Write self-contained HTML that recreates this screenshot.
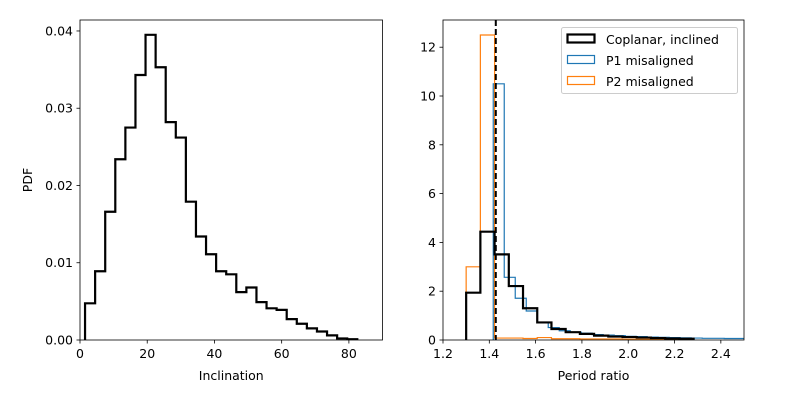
<!DOCTYPE html>
<html><head><meta charset="utf-8"><style>
html,body{margin:0;padding:0;background:#fff;}
svg{display:block;font-family:"DejaVu Sans","Liberation Sans",sans-serif;}
</style></head><body>
<svg id="chart" width="800" height="400"></svg>
<script>
// ---- left panel data ----
const incStart = 1.5;
const incWidth = 3;
const incPdf = [0.00475,0.0089,0.0166,0.0234,0.0275,0.0343,0.0395,0.0353,0.0282,0.0262,0.0179,0.0134,0.0111,0.0089,0.0085,0.0062,0.0068,0.0049,0.0041,0.0039,0.0027,0.0021,0.0015,0.0011,0.0006,0.0002,0.0001];
const incXTicks = [0,20,40,60,80];
const incYTicks = [0,0.01,0.02,0.03,0.04];
const incYLabels = ["0.00","0.01","0.02","0.03","0.04"];
// ---- right panel data ----
const coplanarStart = 1.3, coplanarWidth = 0.0614;
const coplanarVals = [1.94,4.44,3.51,2.21,1.30,0.72,0.45,0.32,0.25,0.18,0.14,0.12,0.10,0.08,0.06,0.05];
const p1Start = 1.417, p1Width = 0.0475;
const p1Vals = [10.5,2.57,1.71,1.19,0.72,0.51,0.38,0.32,0.28,0.22,0.20,0.18,0.15,0.14,0.12,0.11,0.10,0.09,0.08,0.07,0.07,0.06,0.06,0.06,0.06,0.06];
const p2Start = 1.3, p2Width = 0.0614;
const p2Vals = [3.0,12.5,0.08,0.08,0.06,0.1,0.05,0.05,0.04,0.04,0.04,0.03,0.03,0.03,0.02,0.02];
const refLine = 1.428;
const prXTicks = [1.2,1.4,1.6,1.8,2.0,2.2,2.4];
const prXLabels = ["1.2","1.4","1.6","1.8","2.0","2.2","2.4"];
const prYTicks = [0,2,4,6,8,10,12];

const NS="http://www.w3.org/2000/svg";
const svg=document.getElementById('chart');
function el(tag,attrs,parent){const e=document.createElementNS(NS,tag);for(const k in attrs)e.setAttribute(k,attrs[k]);(parent||svg).appendChild(e);return e;}
const FS=12.5;
const L={x0:80,x1:382.5,y0:340,y1:20,xmin:0,xmax:90,ymin:0,ymax:0.04142};
const R={x0:443,x1:744,y0:340,y1:20,xmin:1.2,xmax:2.5,ymin:0,ymax:13.115};
function sx(a,v){return a.x0+(v-a.xmin)/(a.xmax-a.xmin)*(a.x1-a.x0);}
function sy(a,v){return a.y0-(v-a.ymin)/(a.ymax-a.ymin)*(a.y0-a.y1);}

function stepPath(a,start,w,vals){
  let d="M"+sx(a,start)+","+sy(a,0);
  vals.forEach((v,i)=>{const xl=sx(a,start+i*w),xr=sx(a,start+(i+1)*w);d+=" L"+xl+","+sy(a,v)+" L"+xr+","+sy(a,v);});
  d+=" L"+sx(a,start+vals.length*w)+","+sy(a,0);
  return d;
}
function clip(id,a){const c=el('clipPath',{id:id});el('rect',{x:a.x0,y:a.y1,width:a.x1-a.x0,height:a.y0-a.y1},c);}
clip('cl',L);clip('cr',R);

function axesFrame(a,name,xt,xl,yt,yl,xlabel,ylabel){
  const g=el('g',{});
  
  
  xt.forEach((t,i)=>{const x=sx(a,t);
    el('line',{x1:x,x2:x,y1:a.y0,y2:a.y0+3.5,stroke:'#000','stroke-width':0.8},g);
    const tx=el('text',{x:x,y:a.y0+18,'font-size':FS,'text-anchor':'middle',fill:'#000'},g);tx.textContent=xl[i];
    
    });
  yt.forEach((t,i)=>{const y=sy(a,t);
    el('line',{x1:a.x0,x2:a.x0-3.5,y1:y,y2:y,stroke:'#000','stroke-width':0.8},g);
    const tx=el('text',{x:a.x0-7,y:y+4.5,'font-size':FS,'text-anchor':'end',fill:'#000'},g);tx.textContent=yl[i];
    
    });
  const xlab=el('text',{x:(a.x0+a.x1)/2,y:380,'font-size':FS,'text-anchor':'middle'},g);xlab.textContent=xlabel;
  
  
  if(ylabel){const yl2=el('text',{x:32,y:(a.y0+a.y1)/2,'font-size':FS,'text-anchor':'middle',transform:'rotate(-90 32 '+((a.y0+a.y1)/2)+')'},g);yl2.textContent=ylabel;
    
    }
  return g;
}

const h1=el('path',{d:stepPath(L,incStart,incWidth,incPdf),fill:'none',stroke:'#000','stroke-width':2.2,'clip-path':'url(#cl)'});


axesFrame(L,'left',incXTicks,incXTicks.map(String),incYTicks,incYLabels,'Inclination','PDF');
el('rect',{x:L.x0,y:L.y1,width:L.x1-L.x0,height:L.y0-L.y1,fill:'none',stroke:'#000','stroke-width':0.8});

const hb=el('path',{d:stepPath(R,p1Start,p1Width,p1Vals),fill:'none',stroke:'#1f77b4','stroke-width':1.2,'clip-path':'url(#cr)'});


const ho=el('path',{d:stepPath(R,p2Start,p2Width,p2Vals),fill:'none',stroke:'#ff7f0e','stroke-width':1.2,'clip-path':'url(#cr)'});


const hk=el('path',{d:stepPath(R,coplanarStart,coplanarWidth,coplanarVals),fill:'none',stroke:'#000','stroke-width':2.2,'clip-path':'url(#cr)'});


const vl=el('line',{x1:sx(R,refLine),x2:sx(R,refLine),y1:R.y1,y2:R.y0,stroke:'#000','stroke-width':2,'stroke-dasharray':'6,3'});


axesFrame(R,'right',prXTicks,prXLabels,prYTicks,prYTicks.map(String),'Period ratio',null);
el('rect',{x:R.x0,y:R.y1,width:R.x1-R.x0,height:R.y0-R.y1,fill:'none',stroke:'#000','stroke-width':0.8});

const lg=el('g',{});


el('rect',{x:561.5,y:27.5,width:176,height:66,rx:2,fill:'#fff','fill-opacity':0.8,stroke:'#ccc','stroke-width':1},lg);
const entries=[['Coplanar, inclined','#000',2.2],['P1 misaligned','#1f77b4',1.2],['P2 misaligned','#ff7f0e',1.2]];
entries.forEach((e,i)=>{const y=34.5+i*21;
  el('rect',{x:567.5,y:y,width:27,height:8,fill:'none',stroke:e[1],'stroke-width':e[2]},lg);
  const t=el('text',{x:606,y:y+9.5,'font-size':FS,fill:'#000'},lg);t.textContent=e[0];
  
  });
</script>
</body></html>
